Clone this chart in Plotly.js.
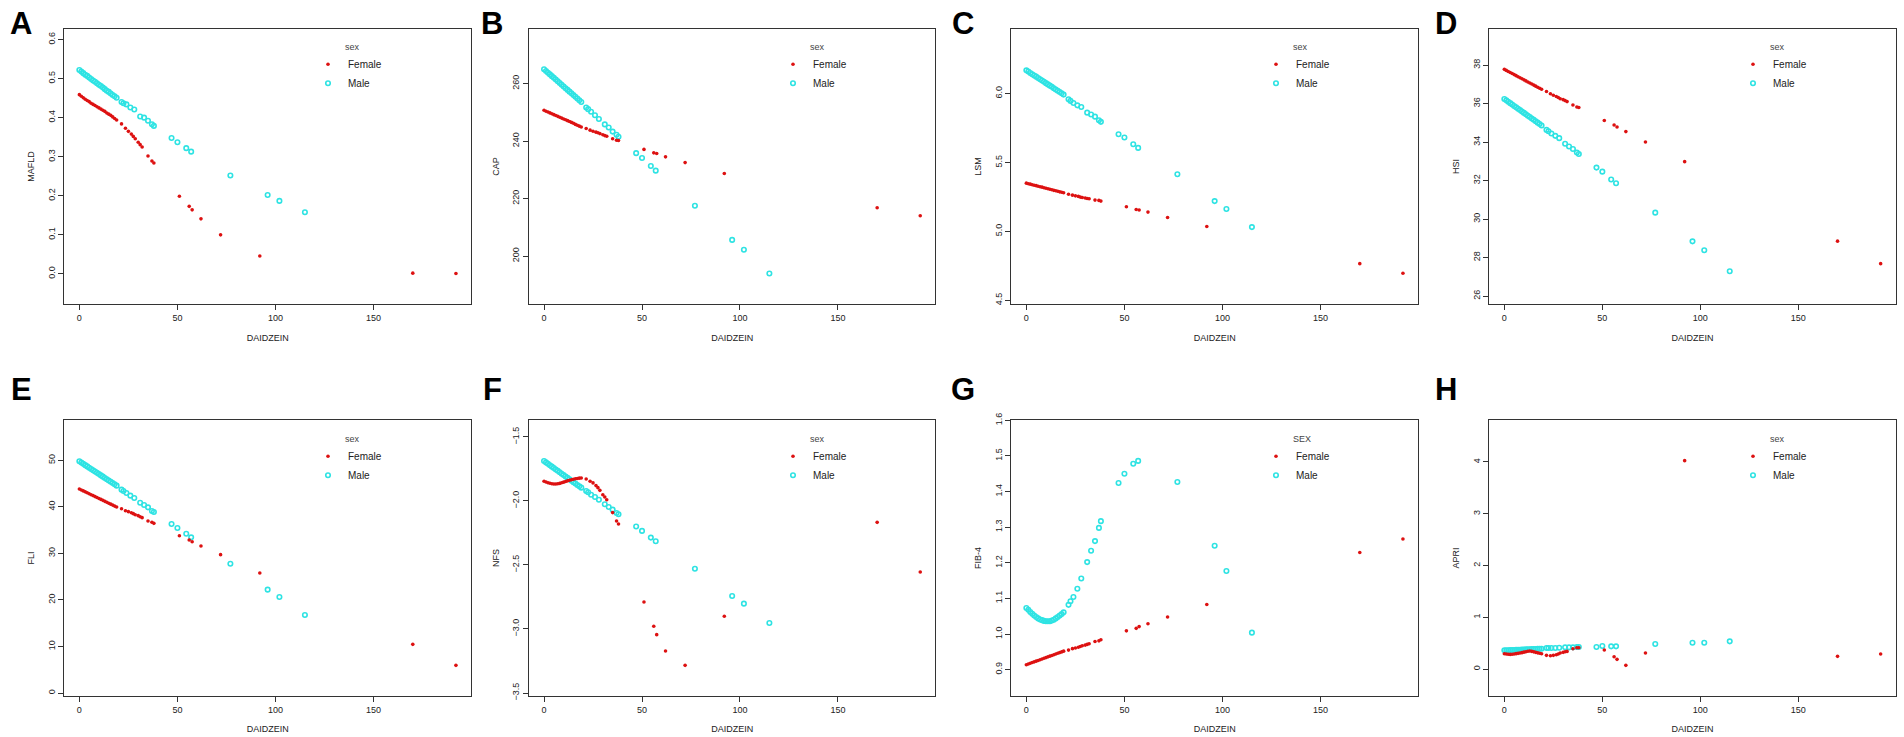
<!DOCTYPE html>
<html>
<head>
<meta charset="utf-8">
<script src="https://cdn.plot.ly/plotly-3.0.1.min.js"></script>
<style>html,body{margin:0;padding:0;background:#fff;}#chart{width:1904px;height:737px;}</style>
</head>
<body>
<div id="chart"></div>
<script>
// ---------- DATA ----------
const xFemale = [0,1,2,3,4,5,6,7,8,9,10,11,12,13,14,15,16,17,18,19,
  21.5,23.5,25,26.5,27.5,28.5,30,31,32,35,37,38,
  51,56,57.5,62,72,92,170,192];
const xMale = [0,1,2,3,4,5,6,7,8,9,10,11,12,13,14,15,16,17,18,19,
  21.5,22.5,24,26,28,31,33,35,37,38,
  47,50,54.5,57,77,96,102,115];

const femaleMAFLD = [0.459,0.455,0.451,0.447,0.444,0.441,0.437,0.434,0.431,0.428,0.425,0.422,0.419,0.416,0.412,0.409,0.406,0.402,0.398,0.394,
  0.384,0.373,0.365,0.358,0.352,0.346,0.337,0.331,0.325,0.302,0.289,0.284,
  0.199,0.173,0.164,0.141,0.100,0.046,0.002,0.001];
const maleMAFLD = [0.522,0.518,0.514,0.510,0.507,0.503,0.499,0.495,0.492,0.488,0.484,0.481,0.477,0.473,0.469,0.466,0.462,0.458,0.455,0.451,
  0.440,0.437,0.434,0.426,0.421,0.403,0.400,0.392,0.383,0.379,
  0.348,0.337,0.322,0.313,0.252,0.202,0.187,0.158];

const femaleCAP = [250.7,250.4,250.1,249.8,249.5,249.2,248.9,248.6,248.3,248.0,247.7,247.4,247.1,246.8,246.5,246.2,245.8,245.5,245.2,244.9,
  244.4,243.8,243.4,243.1,242.9,242.6,242.2,241.9,241.7,240.8,240.3,240.2,
  237.1,235.9,235.7,234.5,232.5,228.7,216.8,214.0];
const maleCAP = [265.0,264.4,263.8,263.2,262.6,262.0,261.4,260.8,260.2,259.6,259.0,258.4,257.8,257.2,256.6,256.0,255.4,254.8,254.2,253.6,
  251.7,251.1,250.2,249.0,247.7,245.8,244.7,243.3,242.2,241.5,
  235.8,234.1,231.3,229.7,217.5,205.6,202.2,193.9];

const femaleLSM = [5.350,5.346,5.343,5.339,5.335,5.332,5.328,5.324,5.321,5.317,5.313,5.309,5.306,5.302,5.298,5.295,5.291,5.287,5.284,5.280,
  5.270,5.263,5.258,5.254,5.249,5.246,5.242,5.239,5.237,5.227,5.225,5.220,
  5.179,5.159,5.155,5.140,5.101,5.036,4.766,4.696];
const maleLSM = [6.169,6.160,6.150,6.141,6.132,6.123,6.113,6.104,6.095,6.086,6.076,6.067,6.058,6.049,6.039,6.030,6.021,6.012,6.002,5.993,
  5.959,5.947,5.932,5.915,5.903,5.862,5.848,5.833,5.807,5.795,
  5.705,5.681,5.633,5.606,5.415,5.220,5.162,5.031];

const femaleHSI = [37.775,37.720,37.666,37.611,37.557,37.502,37.447,37.393,37.338,37.284,37.229,37.175,37.120,37.065,37.011,36.956,36.902,36.847,36.793,36.738,
  36.62,36.51,36.43,36.36,36.31,36.25,36.20,36.15,36.10,35.92,35.82,35.79,
  35.12,34.88,34.78,34.54,34.00,32.98,28.85,27.68];
const maleHSI = [36.236,36.164,36.091,36.019,35.946,35.874,35.802,35.729,35.657,35.584,35.512,35.440,35.367,35.295,35.222,35.150,35.078,35.005,34.933,34.860,
  34.63,34.56,34.44,34.32,34.20,33.91,33.77,33.64,33.45,33.38,
  32.67,32.46,32.05,31.86,30.33,28.84,28.38,27.29];

const femaleFLI = [43.84,43.64,43.43,43.23,43.03,42.82,42.62,42.42,42.21,42.01,41.80,41.60,41.40,41.19,40.99,40.79,40.58,40.38,40.17,39.97,
  39.60,39.18,38.97,38.75,38.54,38.32,38.11,37.89,37.68,36.96,36.68,36.46,
  33.81,32.88,32.52,31.58,29.73,25.79,10.46,5.95];
const maleFLI = [49.79,49.51,49.24,48.96,48.69,48.41,48.14,47.86,47.59,47.31,47.04,46.76,46.49,46.21,45.94,45.66,45.39,45.11,44.84,44.56,
  43.70,43.41,42.98,42.41,41.91,40.90,40.40,39.90,39.11,38.90,
  36.32,35.46,34.24,33.45,27.79,22.21,20.63,16.76];

const femaleNFS = [-1.846,-1.852,-1.858,-1.862,-1.865,-1.867,-1.867,-1.866,-1.863,-1.858,-1.853,-1.848,-1.843,-1.838,-1.834,-1.830,-1.827,-1.824,-1.822,-1.821,
  -1.828,-1.846,-1.859,-1.880,-1.896,-1.917,-1.951,-1.969,-1.990,-2.091,-2.156,-2.180,
  -2.789,-2.979,-3.044,-3.172,-3.284,-2.901,-2.167,-2.555];
const maleNFS = [-1.688,-1.699,-1.710,-1.721,-1.732,-1.743,-1.754,-1.765,-1.776,-1.787,-1.798,-1.809,-1.820,-1.831,-1.842,-1.853,-1.864,-1.875,-1.886,-1.896,
  -1.922,-1.932,-1.951,-1.969,-1.990,-2.026,-2.047,-2.068,-2.094,-2.104,
  -2.200,-2.234,-2.286,-2.315,-2.529,-2.742,-2.802,-2.953];

const femaleFIB4 = [0.914,0.916,0.918,0.920,0.922,0.924,0.926,0.928,0.930,0.932,0.934,0.936,0.938,0.940,0.942,0.944,0.946,0.948,0.950,0.952,
  0.955,0.959,0.961,0.963,0.965,0.967,0.969,0.971,0.973,0.979,0.981,0.984,
  1.009,1.016,1.021,1.029,1.048,1.083,1.229,1.267];
const maleFIB4 = [1.073,1.068,1.062,1.057,1.052,1.048,1.044,1.041,1.039,1.037,1.036,1.036,1.036,1.038,1.040,1.044,1.048,1.052,1.056,1.061,
  1.082,1.092,1.104,1.127,1.156,1.202,1.234,1.261,1.298,1.317,
  1.424,1.450,1.478,1.486,1.427,1.248,1.177,1.004];

const femaleAPRI = [0.296,0.290,0.285,0.283,0.285,0.290,0.297,0.303,0.309,0.317,0.326,0.335,0.343,0.348,0.342,0.332,0.322,0.313,0.304,0.296,
  0.264,0.258,0.264,0.277,0.290,0.309,0.322,0.335,0.341,0.393,0.412,0.410,
  0.367,0.238,0.187,0.071,0.309,4.026,0.245,0.290];
const maleAPRI = [0.361,0.363,0.364,0.366,0.368,0.369,0.371,0.373,0.374,0.376,0.378,0.380,0.381,0.383,0.385,0.386,0.388,0.390,0.391,0.393,
  0.406,0.406,0.406,0.406,0.410,0.419,0.419,0.419,0.425,0.425,
  0.425,0.444,0.438,0.438,0.483,0.509,0.509,0.535];

const panelLetters = ['A','B','C','D','E','F','G','H'];
const yTitles = ['MAFLD','CAP','LSM','HSI','FLI','NFS','FIB-4','APRI'];
const legendTitles = ['sex','sex','sex','sex','sex','sex','SEX','sex'];
const seriesNames = ['Female','Male'];
const xTitle = 'DAIDZEIN';
const xTicks = [0,50,100,150];
const yTicksA = [0,0.1,0.2,0.3,0.4,0.5,0.6];
const yTicksB = [200,220,240,260];
const yTicksC = [4.5,5.0,5.5,6.0];
const yTicksD = [26,28,30,32,34,36,38];
const yTicksE = [0,10,20,30,40,50];
const yTicksF = [-3.5,-3.0,-2.5,-2.0,-1.5];
const yTicksG = [0.9,1.0,1.1,1.2,1.3,1.4,1.5,1.6];
const yTicksH = [0,1,2,3,4];

// ---------- LAYOUT / STYLE ----------
const W = 1904, H = 737;
const FONT = 'Liberation Sans, Arial, sans-serif';
const RED = '#DD1111', CYAN = '#2EE3E3';
const femaleSeries = [femaleMAFLD,femaleCAP,femaleLSM,femaleHSI,femaleFLI,femaleNFS,femaleFIB4,femaleAPRI];
const maleSeries = [maleMAFLD,maleCAP,maleLSM,maleHSI,maleFLI,maleNFS,maleFIB4,maleAPRI];
const yTickSets = [yTicksA,yTicksB,yTicksC,yTicksD,yTicksE,yTicksF,yTicksG,yTicksH];
const yFormats = ['.1f','d','.1f','d','d','.1f','.1f','d'];
const yRanges = [[-0.077,0.627],[183.3,279.0],[4.473,6.469],[25.585,39.87],[-0.57,58.6],[-3.521,-1.370],[0.827,1.600],[-0.515,4.805]];
const xRange = [-7.68,199.68];

const colLeft = [64.3,529,1011.3,1489.3];
const colRight = [471,935.3,1418,1895.7];
const rowTop = [29,420.3];
const rowBottom = [304,695.7];
const legendTextX = [348,813,1296,1773];
const legendTopY = [38,430];
const letterX = [21,492,963,1446];
const letterY = [24,389];

const data = [];
const layout = {
  width: W, height: H,
  margin: {l:0,r:0,t:0,b:0},
  paper_bgcolor: '#fff', plot_bgcolor: '#fff',
  font: {family: FONT, size: 9, color: '#222'},
  showlegend: true,
  annotations: []
};

for (let i = 0; i < 8; i++) {
  const col = i % 4, row = Math.floor(i / 4);
  const n = i + 1;
  const xa = n === 1 ? 'xaxis' : 'xaxis' + n;
  const ya = n === 1 ? 'yaxis' : 'yaxis' + n;
  const xr = n === 1 ? 'x' : 'x' + n;
  const yr = n === 1 ? 'y' : 'y' + n;
  const lg = n === 1 ? 'legend' : 'legend' + n;

  data.push({
    type: 'scatter', mode: 'markers', name: seriesNames[1],
    x: xMale, y: maleSeries[i], xaxis: xr, yaxis: yr, legend: lg,
    marker: {symbol: 'circle-open', size: 4.5, color: CYAN, line: {width: 1.6, color: CYAN}},
    hoverinfo: 'x+y+name'
  });
  data.push({
    type: 'scatter', mode: 'markers', name: seriesNames[0],
    x: xFemale, y: femaleSeries[i], xaxis: xr, yaxis: yr, legend: lg,
    marker: {symbol: 'circle', size: 3.6, color: RED},
    hoverinfo: 'x+y+name'
  });

  const axCommon = {
    showline: true, mirror: true, linecolor: '#333', linewidth: 1.3,
    ticks: 'outside', ticklen: 5, tickwidth: 1, tickcolor: '#333',
    showgrid: false, zeroline: false, automargin: false,
    tickfont: {family: FONT, size: 9, color: '#222'}
  };
  layout[xa] = Object.assign({}, axCommon, {
    domain: [colLeft[col] / W, colRight[col] / W],
    anchor: yr, range: xRange, tickmode: 'array', tickvals: xTicks,
    title: {text: xTitle, font: {family: FONT, size: 9, color: '#222'}, standoff: 12}
  });
  layout[ya] = Object.assign({}, axCommon, {
    domain: [1 - rowBottom[row] / H, 1 - rowTop[row] / H],
    anchor: xr, range: yRanges[i], tickmode: 'array', tickvals: yTickSets[i],
    tickformat: yFormats[i], tickangle: -90,
    title: {text: yTitles[i], font: {family: FONT, size: 9, color: '#222'}, standoff: 10}
  });
  layout[lg] = {
    x: (legendTextX[col] - 40) / W, y: 1 - legendTopY[row] / H,
    xanchor: 'left', yanchor: 'top',
    bgcolor: 'rgba(0,0,0,0)', borderwidth: 0,
    traceorder: 'reversed', itemsizing: 'trace', itemwidth: 30,
    font: {family: FONT, size: 10, color: '#222'},
    title: {text: '\u00a0\u00a0\u00a0\u00a0\u00a0\u00a0\u00a0\u00a0\u00a0\u00a0\u00a0\u00a0\u00a0\u00a0' + legendTitles[i],
            font: {family: FONT, size: 9, color: '#444'}, side: 'top'}
  };
  layout.annotations.push({
    text: '<b>' + panelLetters[i] + '</b>', showarrow: false,
    xref: 'paper', yref: 'paper',
    x: letterX[col] / W, y: 1 - letterY[row] / H,
    xanchor: 'center', yanchor: 'middle',
    font: {family: FONT, size: 31, color: '#000'}
  });
}

Plotly.newPlot('chart', data, layout, {displayModeBar: false, staticPlot: false});
</script>
</body>
</html>
